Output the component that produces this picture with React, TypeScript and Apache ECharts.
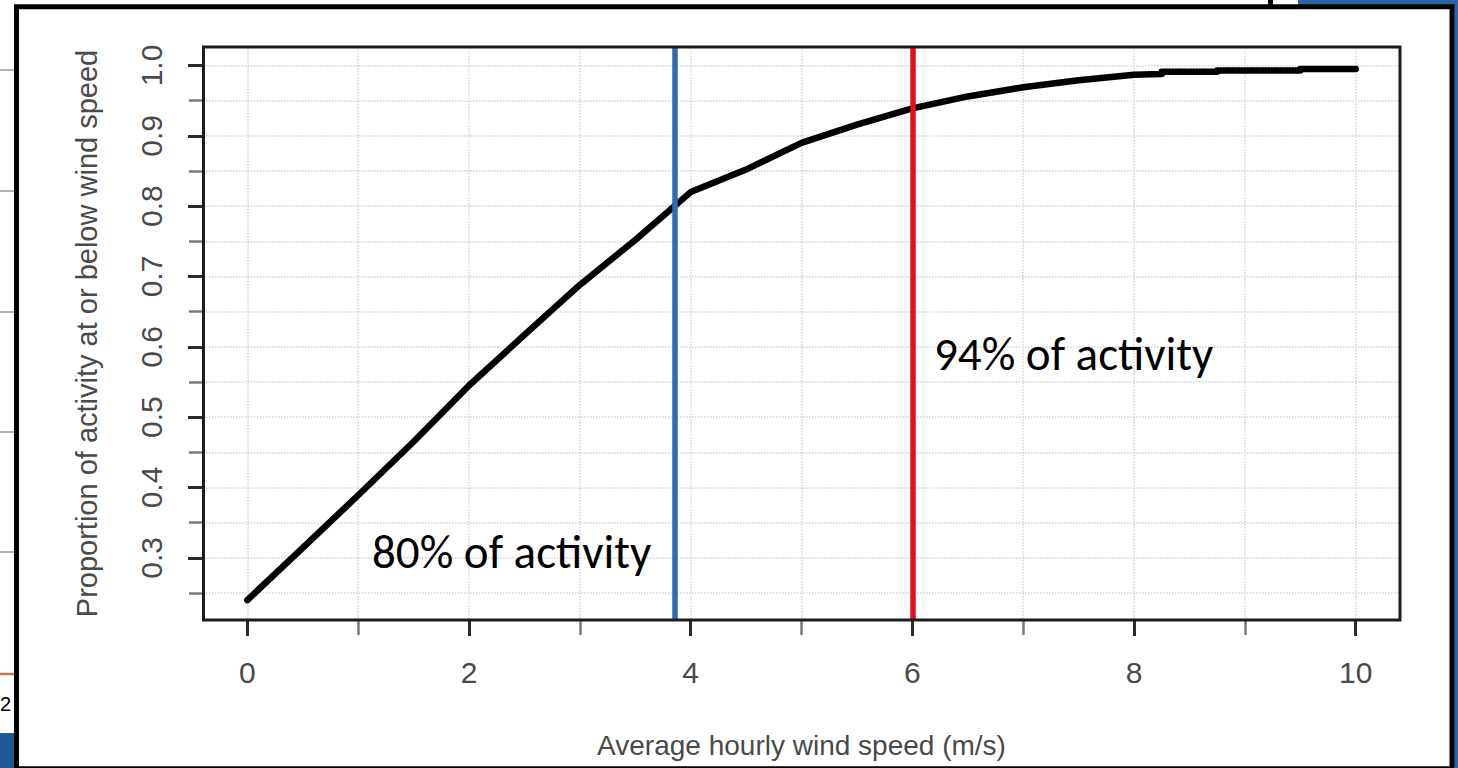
import React, { useEffect, useRef } from "react";
import * as echarts from "echarts";

// ---- data ----
const windSpeed = [0, 0.5, 1, 1.5, 2, 2.5, 3, 3.5, 4, 4.5, 5, 5.5, 6, 6.5, 7, 7.5, 8, 8.25, 8.25, 8.75, 8.75, 9.5, 9.5, 10];
const proportion = [0.240, 0.314, 0.389, 0.465, 0.545, 0.617, 0.688, 0.752, 0.820, 0.852, 0.890, 0.916, 0.939, 0.956, 0.969, 0.979, 0.987, 0.988, 0.991, 0.991, 0.993, 0.993, 0.995, 0.995];
const thresholdSpeeds = [3.86, 6.0];
const annotationTexts = ["80% of activity", "94% of activity"];
const xTitle = "Average hourly wind speed (m/s)";
const yTitle = "Proportion of activity at or below wind speed";

// ---- styles / layout ----
const thresholdColors = ["#2f6cb4", "#e2101e"];
const AXIS_FONT = "'Liberation Sans', Arial, sans-serif";
const NOTE_FONT = "Carlito, Lato, 'Noto Sans', sans-serif";
const TEXT_GRAY = "#4a4a4a";
const GRID_COLOR = "#d2d2d2";

const L = 203, R = 1400, T = 47, B = 620;
const X0PX = 247.3, X10PX = 1355.7;
const Y1PX = 65.5, Y025PX = 593;
const pxX = (X10PX - X0PX) / 10;
const pxY = (Y025PX - Y1PX) / 0.75;
const xMin = -(X0PX - L) / pxX;
const xMax = 10 + (R - X10PX) / pxX;
const yMax = 1 + (Y1PX - T) / pxY;
const yMin = 0.25 - (B - Y025PX) / pxY;

export default function App() {
  const ref = useRef<HTMLDivElement>(null);
  useEffect(() => {
    if (!ref.current) return;
    const chart = echarts.init(ref.current, null, { renderer: "svg" });
    const dotted = { show: true, lineStyle: { color: GRID_COLOR, type: "dotted", width: 1.5 } };
    const hiddenAxis = (gridIndex: number) => ({ type: "value", gridIndex, min: 0, max: 1, show: false });
    const option: any = {
      animation: false,
      backgroundColor: "#ffffff",
      grid: [
        { left: L, top: T, width: R - L, height: B - T },
        { left: X0PX, top: T, width: X10PX - X0PX, height: B - T },
        { left: X0PX + pxX, top: T, width: 8 * pxX, height: B - T },
        { left: L, top: Y1PX, width: R - L, height: 0.7 * pxY },
        { left: L, top: Y1PX + 0.05 * pxY, width: R - L, height: 0.7 * pxY },
      ],
      xAxis: [
        {
          type: "value", gridIndex: 0, min: xMin, max: xMax,
          axisLine: { show: false }, axisTick: { show: false }, axisLabel: { show: false }, splitLine: { show: false },
          name: xTitle, nameLocation: "middle", nameGap: 111,
          nameTextStyle: { color: TEXT_GRAY, fontSize: 28, fontFamily: AXIS_FONT },
        },
        {
          type: "value", gridIndex: 1, min: 0, max: 10, interval: 2,
          axisLine: { show: false },
          axisTick: { show: true, length: 16, lineStyle: { color: "#2a2a2a", width: 3 } },
          axisLabel: { show: true, margin: 37, color: TEXT_GRAY, fontSize: 30, fontFamily: AXIS_FONT, formatter: (v: number) => String(v) },
          splitLine: dotted,
        },
        {
          type: "value", gridIndex: 2, min: 0, max: 8, interval: 2,
          axisLine: { show: false },
          axisTick: { show: true, length: 15, lineStyle: { color: "#7a7a7a", width: 2.5 } },
          axisLabel: { show: false },
          splitLine: dotted,
        },
        hiddenAxis(3),
        hiddenAxis(4),
      ],
      yAxis: [
        {
          type: "value", gridIndex: 0, min: yMin, max: yMax,
          axisLine: { show: false }, axisTick: { show: false }, axisLabel: { show: false }, splitLine: { show: false },
          name: yTitle, nameLocation: "middle", nameGap: 102,
          nameTextStyle: { color: TEXT_GRAY, fontSize: 29, fontFamily: AXIS_FONT },
        },
        hiddenAxis(1),
        hiddenAxis(2),
        {
          type: "value", gridIndex: 3, min: 0.3, max: 1.0, interval: 0.1,
          axisLine: { show: false },
          axisTick: { show: true, length: 15, lineStyle: { color: "#2a2a2a", width: 3 } },
          axisLabel: { show: true, rotate: 90, margin: 37, color: TEXT_GRAY, fontSize: 30, fontFamily: AXIS_FONT, formatter: (v: number) => v.toFixed(1) },
          splitLine: dotted,
        },
        {
          type: "value", gridIndex: 4, min: 0, max: 0.7, interval: 0.1,
          axisLine: { show: false },
          axisTick: { show: true, length: 14, lineStyle: { color: "#7a7a7a", width: 2.5 } },
          axisLabel: { show: false },
          splitLine: dotted,
        },
      ],
      series: [
        {
          type: "line",
          xAxisIndex: 0, yAxisIndex: 0,
          data: windSpeed.map((x, i) => [x, proportion[i]]),
          showSymbol: false, symbol: "none",
          lineStyle: { color: "#000000", width: 6.5, cap: "round", join: "round" },
          z: 3,
          markLine: {
            silent: true,
            symbol: ["none", "none"],
            label: { show: false },
            data: thresholdSpeeds.map((v, i) => ({ xAxis: v, lineStyle: { color: thresholdColors[i], width: 5.5, type: "solid" } })),
          },
        },
      ],
      graphic: [
        // slide background pieces
        { type: "rect", z: -30, shape: { x: 1298, y: 0, width: 160, height: 768 }, style: { fill: "#2b65a6" } },
        { type: "rect", z: -30, shape: { x: 0, y: 733, width: 16, height: 35 }, style: { fill: "#1f5a91" } },
        ...[70, 191, 312, 432, 552].map((y) => ({ type: "line", z: -30, shape: { x1: 0, y1: y, x2: 16, y2: y }, style: { stroke: "#9a9a9a", lineWidth: 1.5 } })),
        { type: "line", z: -30, shape: { x1: 0, y1: 674, x2: 16, y2: 674 }, style: { stroke: "#c67a46", lineWidth: 2.5 } },
        { type: "text", z: -30, x: 0, y: 704, style: { text: "2", font: "20px 'Liberation Sans', Arial, sans-serif", fill: "#000", verticalAlign: "middle", align: "left" } },
        { type: "line", z: -30, shape: { x1: 1270.5, y1: 0, x2: 1270.5, y2: 8 }, style: { stroke: "#000", lineWidth: 5 } },
        // white framed picture
        { type: "rect", z: -20, shape: { x: 16.5, y: 6.7, width: 1435.5, height: 762 }, style: { fill: "#ffffff", stroke: "#000000", lineWidth: 5 } },
        // plot box
        { type: "rect", z: 50, shape: { x: L + 0.5, y: T, width: R - L - 0.5, height: B - T }, style: { fill: "none", stroke: "#1c1c1c", lineWidth: 3 } },
        // annotations
        { type: "text", z: 60, x: 372, y: 552, style: { text: annotationTexts[0], font: `47px ${NOTE_FONT}`, fill: "#000", verticalAlign: "middle", align: "left" } },
        { type: "text", z: 60, x: 934, y: 354, style: { text: annotationTexts[1], font: `47px ${NOTE_FONT}`, fill: "#000", verticalAlign: "middle", align: "left" } },
      ],
    };
    chart.setOption(option);
    return () => chart.dispose();
  }, []);
  return <div ref={ref} style={{ position: "absolute", left: 0, top: 0, width: 1458, height: 768 }} />;
}
